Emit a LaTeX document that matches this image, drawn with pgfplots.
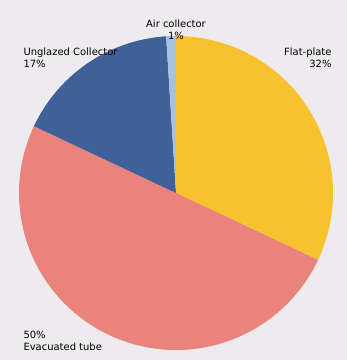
\documentclass[border=0pt]{standalone}
\usepackage{pgfplots}
\pgfplotsset{compat=1.18}
\usepackage{fontspec}
\setmainfont{DejaVu Sans}
\definecolor{bg}{HTML}{EEEBEE}
\definecolor{cFlat}{HTML}{F7C22E}
\definecolor{cEvac}{HTML}{E9837C}
\definecolor{cUngl}{HTML}{40609A}
\definecolor{cAir}{HTML}{A7C1DF}
\definecolor{txt}{HTML}{505058}
% shares in percent
\def\pFlat{32}
\def\pEvac{50}
\def\pUngl{17}
\def\pAir{1}
\begin{document}
\begin{tikzpicture}
\pgfmathsetmacro{\aA}{90}
\pgfmathsetmacro{\aB}{\aA-3.6*\pFlat}
\pgfmathsetmacro{\aC}{\aB-3.6*\pEvac}
\pgfmathsetmacro{\aD}{\aC-3.6*\pUngl}
\pgfmathsetmacro{\aE}{\aD-3.6*\pAir}
\begin{axis}[
  width=347bp, height=360bp, scale only axis,
  xmin=0, xmax=347, ymin=0, ymax=360,
  axis lines=none, enlargelimits=false,
  axis background/.style={fill=bg},
  clip=false,
  every node/.style={font=\fontsize{7.4}{10.5}\selectfont, text=txt, inner sep=0pt},
]
\addplot[fill=cFlat, draw=none, domain=\aA:\aB, samples=80, variable=\t]
  ({176+157*cos(t)}, {167+157*sin(t)}) -- (axis cs:176,167) -- cycle;
\addplot[fill=cEvac, draw=none, domain=\aB:\aC, samples=120, variable=\t]
  ({176+157*cos(t)}, {167+157*sin(t)}) -- (axis cs:176,167) -- cycle;
\addplot[fill=cUngl, draw=none, domain=\aC:\aD, samples=60, variable=\t]
  ({176+157*cos(t)}, {167+157*sin(t)}) -- (axis cs:176,167) -- cycle;
\addplot[fill=cAir, draw=none, domain=\aD:\aE, samples=10, variable=\t]
  ({176+157*cos(t)}, {167+157*sin(t)}) -- (axis cs:176,167) -- cycle;
\node[align=center, anchor=north] at (axis cs:176,344) {Air collector\\1\%};
\node[align=left, anchor=north west] at (axis cs:20,316) {Unglazed Collector\\17\%};
\node[align=right, anchor=north east] at (axis cs:335,316) {Flat-plate\\32\%};
\node[align=left, anchor=north west] at (axis cs:20,32) {50\%\\Evacuated tube};
\end{axis}
\end{tikzpicture}
\end{document}
